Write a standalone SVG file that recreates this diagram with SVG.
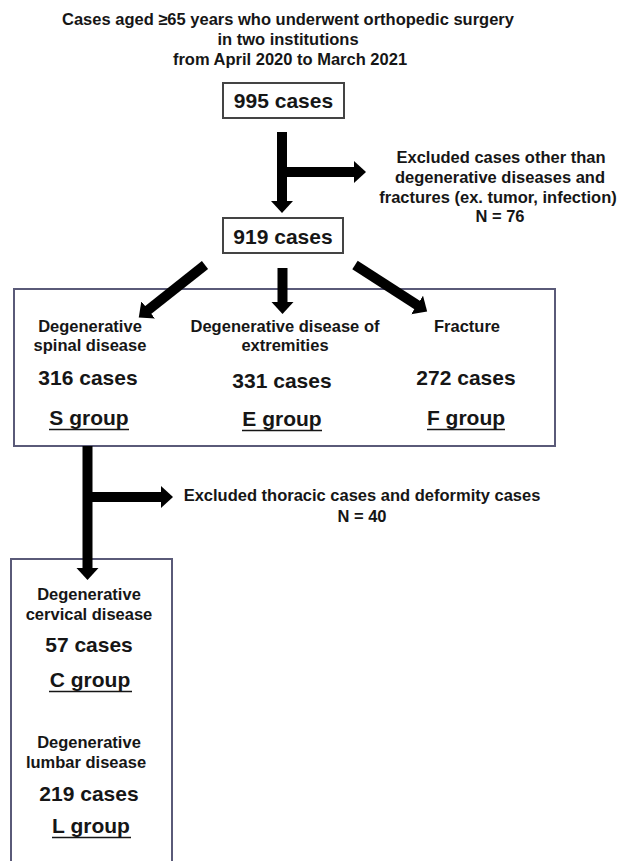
<svg xmlns="http://www.w3.org/2000/svg" width="620" height="861" viewBox="0 0 620 861">
<style>
text{font-family:"Liberation Sans",Arial,Helvetica,sans-serif;font-weight:bold;fill:#161616;text-anchor:middle}
.s{font-size:16.5px}
.l{font-size:21px}
.box{fill:none;stroke:#444;stroke-width:2}
.grp{fill:none;stroke:#5a5a78;stroke-width:2}
.ul{stroke:#161616;stroke-width:1.6}
.arr{stroke:#000;stroke-width:10;fill:none;marker-end:url(#head)}
</style>
<defs>
<marker id="head" markerUnits="userSpaceOnUse" markerWidth="14" markerHeight="24" refX="1" refY="11" orient="auto" viewBox="0 0 14 24">
<path d="M0,0 L12,11 L0,22 Z" fill="#000"/>
</marker>
</defs>
<rect width="620" height="861" fill="#fff"/>

<g id="title">
<text class="s" x="288" y="25">Cases aged ≥65 years who underwent orthopedic surgery</text>
<text class="s" x="288" y="45">in two institutions</text>
<text class="s" x="290" y="65">from April 2020 to March 2021</text>
</g>

<g id="n995">
<rect class="box" x="223" y="83" width="121" height="35"/>
<text class="l" x="283.5" y="108">995 cases</text>
</g>

<g id="excl1">
<text class="s" x="501" y="163">Excluded cases other than</text>
<text class="s" x="500" y="183">degenerative diseases and</text>
<text class="s" x="498" y="203">fractures (ex. tumor, infection)</text>
<text class="s" x="500" y="222">N = 76</text>
</g>

<g id="n919">
<rect class="box" x="223" y="218" width="120" height="35"/>
<text class="l" x="283" y="244">919 cases</text>
</g>

<g id="groups">
<rect class="grp" x="14" y="289" width="541" height="157"/>
</g>

<g id="sgroup">
<text class="s" x="90" y="332">Degenerative</text>
<text class="s" x="90" y="351">spinal disease</text>
<text class="l" x="88" y="385">316 cases</text>
<text class="l" x="89" y="425">S group</text>
<line class="ul" x1="49" y1="429.5" x2="129" y2="429.5"/>
</g>

<g id="egroup">
<text class="s" x="285" y="332">Degenerative disease of</text>
<text class="s" x="285" y="351">extremities</text>
<text class="l" x="282" y="388">331 cases</text>
<text class="l" x="282" y="426">E group</text>
<line class="ul" x1="242" y1="430.5" x2="322" y2="430.5"/>
</g>

<g id="fgroup">
<text class="s" x="467" y="332">Fracture</text>
<text class="l" x="466" y="385">272 cases</text>
<text class="l" x="466" y="425">F group</text>
<line class="ul" x1="427" y1="429.5" x2="505" y2="429.5"/>
</g>

<g id="excl2">
<text class="s" x="362" y="501">Excluded thoracic cases and deformity cases</text>
<text class="s" x="362" y="522">N = 40</text>
</g>

<g id="spine">
<rect class="grp" x="11" y="559" width="161" height="310"/>
<text class="s" x="89" y="600">Degenerative</text>
<text class="s" x="89" y="620">cervical disease</text>
<text class="l" x="89" y="652">57 cases</text>
<text class="l" x="90" y="687">C group</text>
<line class="ul" x1="49" y1="691.5" x2="132" y2="691.5"/>
<text class="s" x="89" y="748">Degenerative</text>
<text class="s" x="86" y="768">lumbar disease</text>
<text class="l" x="89" y="801">219 cases</text>
<text class="l" x="91" y="833">L group</text>
<line class="ul" x1="52" y1="837.5" x2="131" y2="837.5"/>
</g>

<g id="connectors">
<line class="arr" x1="282" y1="132" x2="282" y2="202"/>
<line class="arr" x1="282" y1="172" x2="355" y2="172"/>
<line class="arr" x1="205" y1="265" x2="147.4" y2="310.6"/>
<line class="arr" x1="282.5" y1="268" x2="282.5" y2="303"/>
<line class="arr" x1="355" y1="265" x2="417.9" y2="305.5"/>
<line class="arr" x1="87.5" y1="446" x2="87.5" y2="569"/>
<line class="arr" x1="87.5" y1="497" x2="162" y2="497"/>
</g>
</svg>
